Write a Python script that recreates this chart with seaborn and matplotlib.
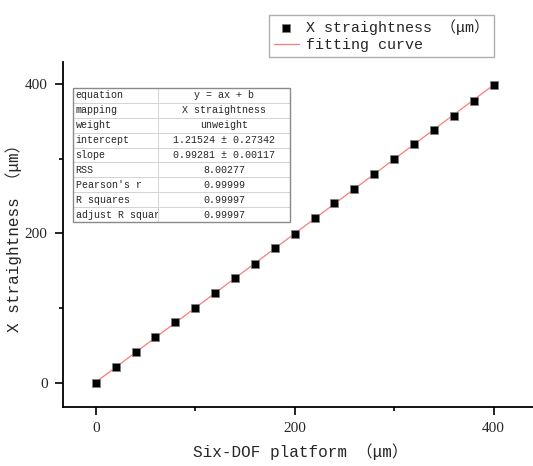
import numpy as np
import pandas as pd
import matplotlib
matplotlib.use("Agg")
import matplotlib.pyplot as plt
import seaborn as sns
from matplotlib.patches import Rectangle

# ---- data ----
platform = [0, 20, 40, 60, 80, 100, 120, 140, 160, 180, 200,
            220, 240, 260, 280, 300, 320, 340, 360, 380, 400]
straightness = [0, 21, 41, 61, 81, 100, 120, 140, 159, 180, 199,
                220, 240, 259, 280, 299, 319, 338, 357, 377, 398]
fit_slope = 0.99281
fit_intercept = 1.21524
table_keys = ["equation", "mapping", "weight", "intercept", "slope", "RSS",
              "Pearson's r", "R squares", "adjust R squar"]
table_vals = ["y = ax + b", "X straightness", "unweight",
              "1.21524 ± 0.27342", "0.99281 ± 0.00117", "8.00277",
              "0.99999", "0.99997", "0.99997"]
x_label = "Six-DOF platform （μm）"
y_label = "X straightness （μm）"
legend_labels = ["X straightness （μm）", "fitting curve"]

sns.set_theme(style="ticks")
fams = ["Liberation Mono", "Noto Sans CJK SC", "DejaVu Sans"]
plt.rcParams["font.family"] = fams

df = pd.DataFrame({"x": platform, "y": straightness})
fx = np.array([platform[0], platform[-1]], dtype=float)
fit_df = pd.DataFrame({"x": fx, "y": fit_slope * fx + fit_intercept})

fig = plt.figure(figsize=(5.33, 4.66), dpi=100)
ax = fig.add_axes([63 / 533, 1 - 407 / 466, 1 - 63 / 533 + 0.01, (407 - 62) / 466])

sns.lineplot(data=fit_df, x="x", y="y", ax=ax, color="#ff7a7a", lw=0.9,
             label=legend_labels[1], zorder=2)
sns.scatterplot(data=df, x="x", y="y", ax=ax, marker="s", s=38, color="black",
                edgecolor="#808080", linewidth=0.5, label=legend_labels[0], zorder=3)

ax.set_xlim(-33, 445)
ax.set_ylim(-32, 429)
ax.set_xticks([0, 200, 400])
ax.set_yticks([0, 200, 400])
ax.set_xticks([100, 300], minor=True)
ax.set_yticks([100, 300], minor=True)
for sp in ["top", "right"]:
    ax.spines[sp].set_visible(False)
for sp in ["left", "bottom"]:
    ax.spines[sp].set_linewidth(1.3)
    ax.spines[sp].set_color("black")
ax.tick_params(which="major", direction="out", length=6, width=1.2, color="black",
               labelsize=11, pad=5)
ax.tick_params(which="minor", direction="out", length=3, width=1.2, color="black")
for lab in ax.get_xticklabels() + ax.get_yticklabels():
    lab.set_family(["Liberation Serif", "DejaVu Serif"])
ax.set_xlabel(x_label, fontsize=11.5, family=fams, labelpad=6)
ax.set_ylabel(y_label, fontsize=11.5, family=fams, labelpad=2)

# legend above axes
h, l = ax.get_legend_handles_labels()
ax.legend_.remove()
order = [l.index(legend_labels[0]), l.index(legend_labels[1])]
leg = fig.legend([h[i] for i in order], [l[i] for i in order],
                 loc="upper left", bbox_to_anchor=(269 / 533, 1 - 15 / 466),
                 frameon=True, fancybox=False, edgecolor="#9a9a9a",
                 prop={"family": fams, "size": 10.8}, handlelength=1.7,
                 handletextpad=0.5, borderpad=0.3, labelspacing=0.2,
                 borderaxespad=0)
leg.get_frame().set_linewidth(1.0)

# parameter table
W = (533 - 63 + 5.33)
tab = ax.table(cellText=[[k, v] for k, v in zip(table_keys, table_vals)],
               cellLoc="center",
               bbox=[(73 - 63) / W, (407 - 222) / 345,
                     (290 - 73) / W, (222 - 88) / 345],
               zorder=5)
tab.auto_set_font_size(False)
for (r, c), cell in tab.get_celld().items():
    cell.set_edgecolor("#d0d0d0")
    cell.set_linewidth(0.6)
    cell.set_facecolor("white")
    t = cell.get_text()
    t.set_fontsize(7.2)
    t.set_family(fams)
    if c == 0:
        cell.set_width((158 - 73) / W)
        t.set_ha("left")
        cell.PAD = 0.03
    else:
        cell.set_width((290 - 158) / W)
fig.add_artist(Rectangle((73 / 533, 1 - 222 / 466), (290 - 73) / 533,
                         (222 - 88) / 466, transform=fig.transFigure,
                         fill=False, edgecolor="#8a8a8a", lw=1.0, zorder=6))

fig.savefig("out.png", dpi=100)
